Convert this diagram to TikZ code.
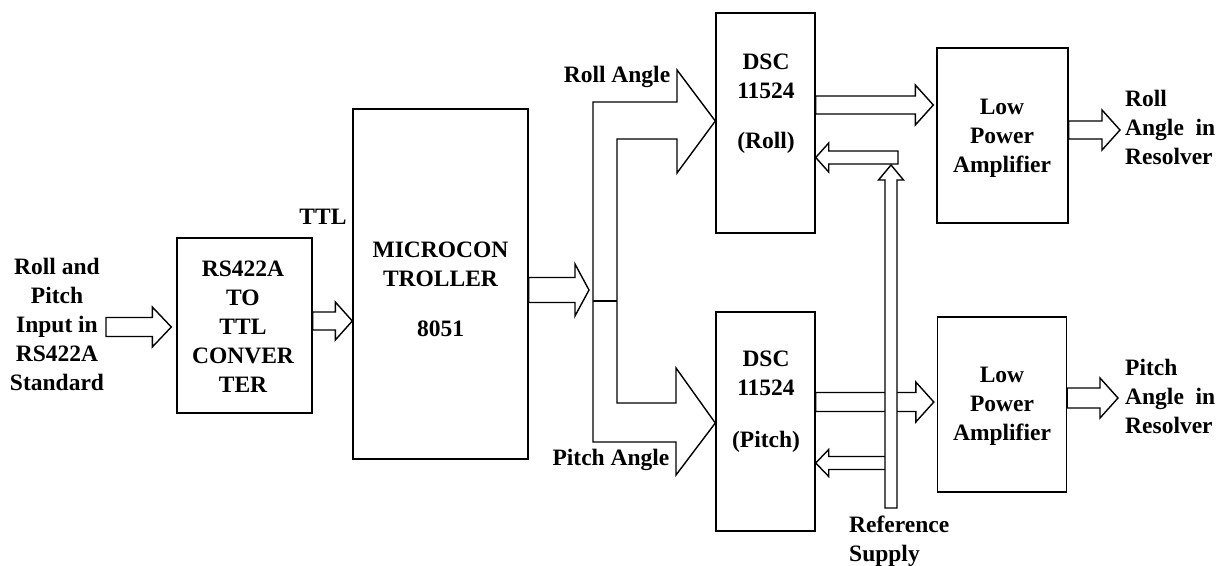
\documentclass[tikz,border=0pt]{standalone}
\usepackage{fontspec}
\setmainfont{Liberation Serif}
\usetikzlibrary{calc, positioning}

\tikzset{
  box/.style={draw, line width=1.4pt, fill=white, inner sep=0pt},
  lbl/.style={font=\fontsize{23.5}{29}\selectfont\bfseries, align=center, inner sep=0pt},
  blockarrow/.style={draw, line width=1.4pt, fill=white, line join=miter}
}

% hollow block arrow: start, tip, shaft half width, head half width, head length
\newcommand{\hollowarrow}[5]{%
  \path #1 coordinate (ha-s) #2 coordinate (ha-t);
  \path ($(ha-t)!#5!(ha-s)$) coordinate (ha-b);
  \draw[blockarrow] ($(ha-s)!#3!90:(ha-t)$) -- ($(ha-b)!#3!-90:(ha-s)$)
    -- ($(ha-b)!#4!-90:(ha-s)$) -- (ha-t) -- ($(ha-b)!#4!90:(ha-s)$)
    -- ($(ha-b)!#3!90:(ha-s)$) -- ($(ha-s)!#3!-90:(ha-t)$) -- cycle;
}

\begin{document}
\begin{tikzpicture}[x=1pt, y=-1pt]
  \useasboundingbox (0,0) rectangle (1228,565);

  % --- Blocks ---
  \node[box, minimum width=135pt, minimum height=175pt] (rs) at (244.5,325.5) {};
  \node[box, minimum width=175pt, minimum height=350pt] (mc) at (440.5,284) {};
  \node[box, minimum width=99pt, minimum height=220pt] (dscroll) at (765.5,123) {};
  \node[box, minimum width=99pt, minimum height=219pt] (dscpitch) at (765.5,421.5) {};
  \node[box, minimum width=131pt, minimum height=175pt] (lparoll) at (1002.5,135.5) {};
  \node[box, minimum width=129pt, minimum height=175pt] (lpapitch) at (1002,404.5) {};

  % --- Texts ---
  \node[lbl] (intxt) at (57,324.5) {Roll and\\Pitch\\Input in\\RS422A\\Standard};
  \node[lbl] (rstxt) at (243,326.5) {RS422A\\TO\\TTL\\CONVER\\TER};
  \node[lbl] (ttl) at (323,217) {TTL};
  \node[lbl] (mctxt) at (440.5,289) {MICROCON\\TROLLER\\[21pt]8051};
  \node[lbl] (rollang) at (617,77) {Roll Angle};
  \node[lbl] (pitchang) at (611,460) {Pitch Angle};
  \node[lbl] (dscrolltxt) at (766,104) {DSC\\11524\\[21pt](Roll)};
  \node[lbl] (dscpitchtxt) at (766,402) {DSC\\11524\\[23pt](Pitch)};
  \node[lbl] (lparolltxt) at (1002,138.5) {Low\\Power\\Amplifier};
  \node[lbl] (lpapitchtxt) at (1002,406.5) {Low\\Power\\Amplifier};
  \node[lbl, align=left, anchor=west] (rollout) at (1125,127.5) {Roll\\Angle\ \ in\\Resolver};
  \node[lbl, align=left, anchor=west] (pitchout) at (1125,396.5) {Pitch\\Angle\ \ in\\Resolver};
  \node[lbl, align=left, anchor=west] (reftxt) at (849,541) {Reference\\Supply};

  \coordinate (busin) at (593,290);
  \coordinate (refbot) at (891,508);

  % --- Input side ---
  \hollowarrow{(106,327)}{([xshift=-5pt]rs.west |- 0,327)}{9.5pt}{20pt}{19pt}
  \hollowarrow{(rs.east |- 0,321)}{(mc.west |- 0,321)}{9pt}{19pt}{17pt}
  \hollowarrow{(mc.east |- 0,290)}{([xshift=-4pt]busin)}{12.5pt}{26pt}{14pt}

  % --- Split to the two converters ---
  \draw[blockarrow] (593,442) -- (593,102) -- (677,102) -- (677,70)
    -- (dscroll.west |- 0,121) -- (677,173) -- (677,139) -- (617,139)
    -- (617,403) -- (676,403) -- (676,368) -- (dscpitch.west |- 0,423)
    -- (676,475) -- (676,442) -- cycle;
  \draw[line width=1.4pt] (593,301) -- (617,301);

  % --- Converter outputs ---
  \hollowarrow{(dscroll.east |- 0,105)}{([xshift=-3pt]lparoll.west |- 0,105)}{9pt}{20pt}{18pt}
  \hollowarrow{(dscpitch.east |- 0,402)}{([xshift=-3pt]lpapitch.west |- 0,402)}{9.5pt}{20pt}{18pt}

  % --- Reference supply ---
  \hollowarrow{(898,157.5)}{(dscroll.east |- 0,157.5)}{6.5pt}{14.5pt}{13pt}
  \hollowarrow{(refbot |- 0,463)}{(dscpitch.east |- 0,463)}{6.5pt}{13.5pt}{13pt}
  \hollowarrow{(refbot)}{(refbot |- 0,165)}{6pt}{12.5pt}{15pt}

  % --- Amplifier outputs ---
  \hollowarrow{(lparoll.east |- 0,130)}{([xshift=-5pt]rollout.west |- 0,130)}{9pt}{20pt}{18pt}
  \hollowarrow{(lpapitch.east |- 0,398)}{([xshift=-7pt]pitchout.west |- 0,398)}{10pt}{20pt}{18pt}
\end{tikzpicture}
\end{document}
